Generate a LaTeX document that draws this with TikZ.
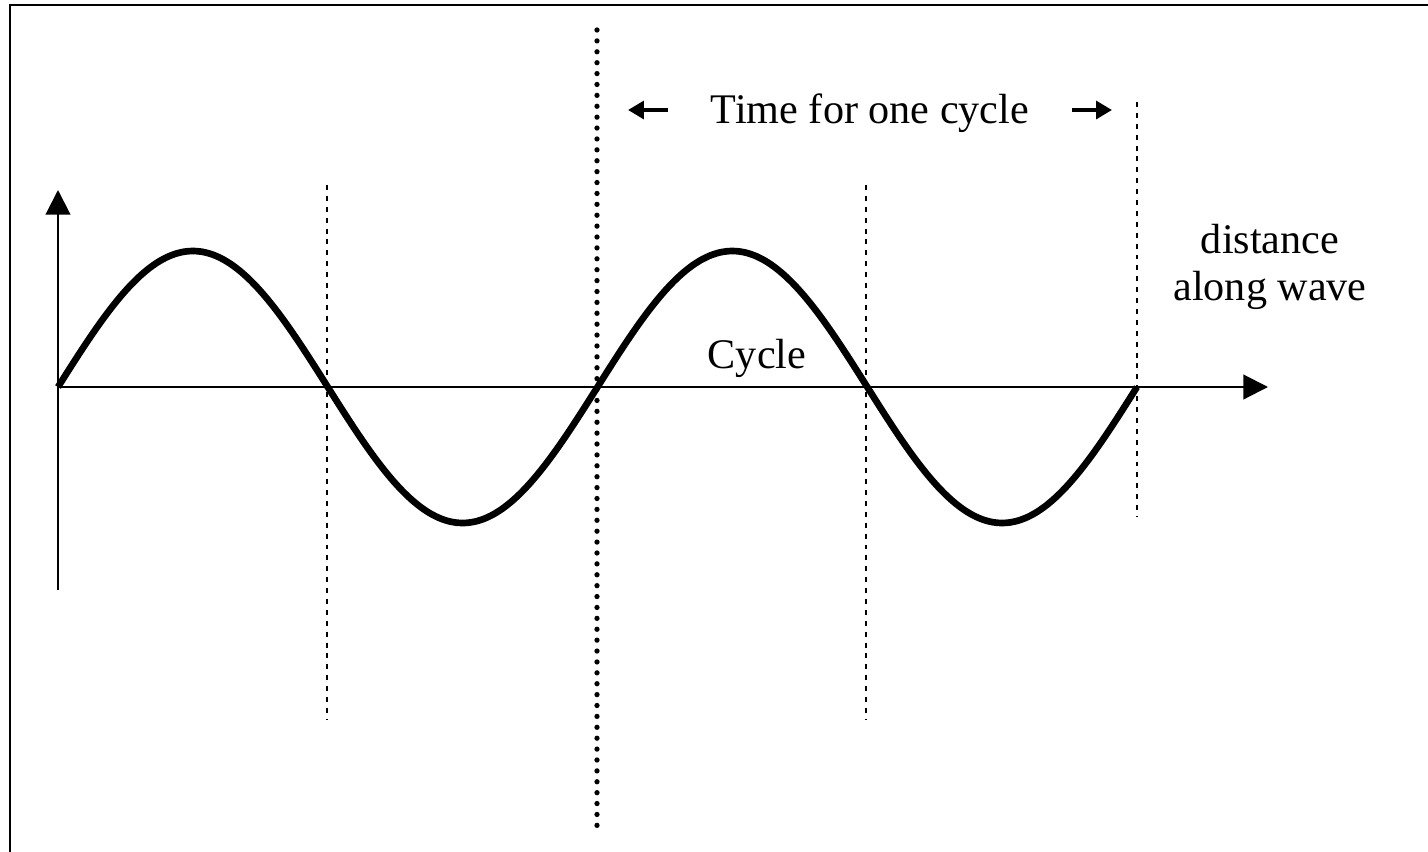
\documentclass[tikz,border=0pt]{standalone}
\usepackage{fontspec}
\setmainfont{Liberation Serif}
\usetikzlibrary{arrows.meta,positioning}

\begin{document}
\begin{tikzpicture}[
  font=\fontsize{12}{13.5}\selectfont,
  axis/.style={-{Triangle[length=7pt,width=7pt]},line width=0.6pt},
  wave/.style={line width=1.9pt},
  guide/.style={line width=0.75pt,dash pattern=on 1.4pt off 1.7pt},
  midline/.style={line width=1.5pt,line cap=round,dash pattern=on 0pt off 3.1pt},
  timearrow/.style={-{Triangle[length=4.5pt,width=5pt]},line width=1.2pt},
]
  \useasboundingbox (-0.58,-4.64) rectangle (13.70,3.87);
  % frame (runs off the right and bottom edges)
  \draw[line width=0.8pt] (-0.48,-5.2) -- (-0.48,3.82) -- (14.2,3.82);

  % axes
  \coordinate (O) at (0,0);
  \coordinate (ybot) at (0,-2.03);
  \coordinate (ytop) at (0,1.97);
  \coordinate (xend) at (12.10,0);
  \draw[axis] (ybot) -- (ytop);
  \draw[axis] (O) -- (xend);

  % two full cycles
  \draw[wave] plot[domain=0:10.79,samples=120,smooth]
    (\x,{1.36*sin(\x*360/5.395)});

  % cycle boundaries
  \draw[guide] (2.69,2.02) -- (2.69,-3.33);
  \draw[guide] (8.08,2.02) -- (8.08,-3.33);
  \draw[guide] (10.79,2.85) -- (10.79,-1.30);
  \draw[midline] (5.39,3.57) -- (5.39,-4.43);

  % labels
  \node (period) at (8.12,2.74) {Time for one cycle};
  \coordinate (ls) at (6.10,2.77);
  \coordinate (lt) at (5.70,2.77);
  \coordinate (rs) at (10.14,2.77);
  \coordinate (rt) at (10.54,2.77);
  \draw[timearrow] (ls) -- (lt);
  \draw[timearrow] (rs) -- (rt);
  \node (cycle) at (6.99,0.29) {Cycle};
  \node[align=center] (dist) at (12.12,1.20) {distance\\along wave};
\end{tikzpicture}
\end{document}
